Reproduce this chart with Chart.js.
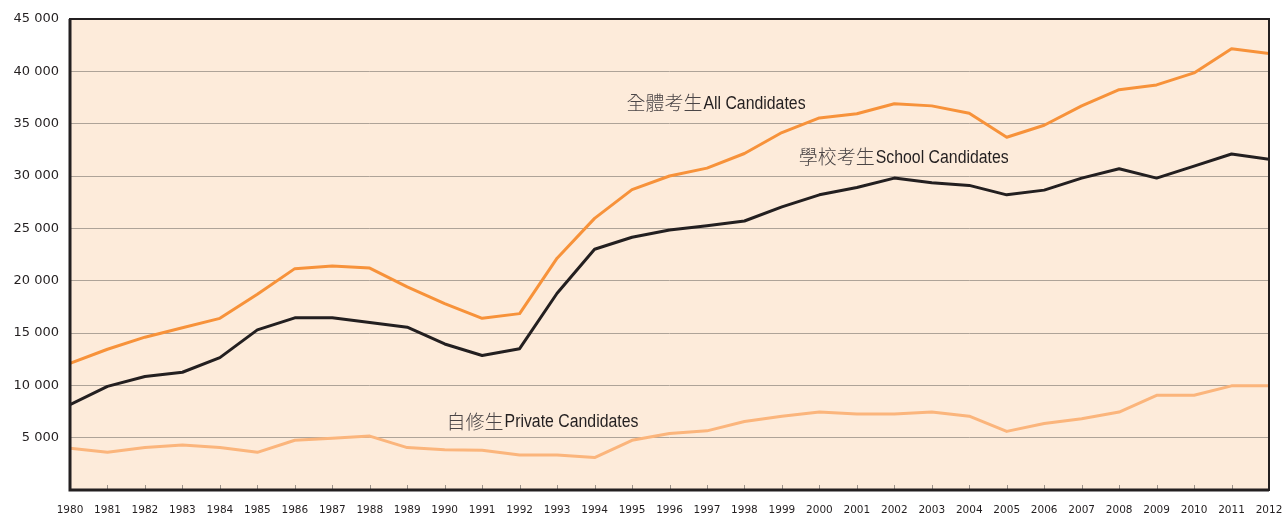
<!DOCTYPE html>
<html>
<head>
<meta charset="utf-8">
<script src="https://cdn.jsdelivr.net/npm/chart.js@4.4.1/dist/chart.umd.min.js"></script>
<style>
  html, body { margin: 0; padding: 0; background: #ffffff; }
  #wrap { width: 1283px; height: 514px; position: relative; }
</style>
</head>
<body>
<div id="wrap"><canvas id="candChart" width="1283" height="514"></canvas></div>
<script>
const years = [1980,1981,1982,1983,1984,1985,1986,1987,1988,1989,1990,1991,1992,1993,1994,1995,1996,
               1997,1998,1999,2000,2001,2002,2003,2004,2005,2006,2007,2008,2009,2010,2011,2012];
const allCandidates = [12100,13450,14600,15500,16400,18700,21150,21400,21200,19400,17800,16400,16850,22150,25950,28700,
                       30000,30750,32150,34150,35550,35950,36900,36700,36000,33700,34850,36700,38250,38700,39850,42150,41700];
const schoolCandidates = [8150,9900,10850,11250,12650,15300,16450,16450,16000,15550,13950,12850,13500,18800,23000,24150,
                          24850,25250,25700,27050,28200,28900,29800,29350,29100,28200,28650,29800,30700,29800,30950,32100,31600];
const privateCandidates = [4000,3600,4050,4300,4050,3600,4750,4950,5150,4050,3850,3800,3350,3350,3100,4750,
                           5400,5650,6550,7050,7450,7250,7250,7450,7050,5600,6350,6800,7450,9050,9050,9950,9950];
const yTicks = [0,5000,10000,15000,20000,25000,30000,35000,40000,45000];

// labels placed next to the lines, in data units
const seriesLabels = [
    { zh: '全體考生', en: 'All Candidates', x: 1994.85, y: 36950 },
    { zh: '學校考生', en: 'School Candidates', x: 1999.45, y: 31800 },
    { zh: '自修生', en: 'Private Candidates', x: 1990.05, y: 6550 }
];

function fmt(v) {
    if (v === 0) return '';
    let s = String(v);
    return s.slice(0, s.length - 3) + ' ' + s.slice(-3);
}

const frame = {
    id: 'frame',
    beforeDraw(chart) {
        const a = chart.chartArea, c = chart.ctx;
        c.save();
        c.fillStyle = '#fdebda';
        c.fillRect(a.left, a.top, a.right - a.left, a.bottom - a.top);
        c.restore();
    },
    afterDraw(chart) {
        const a = chart.chartArea, c = chart.ctx, xs = chart.scales.x;
        c.save();
        // small inward ticks on the bottom axis
        c.strokeStyle = '#9c928a';
        c.lineWidth = 1;
        xs.ticks.forEach((t, i) => {
            const px = Math.round(xs.getPixelForTick(i)) + 0.5;
            c.beginPath();
            c.moveTo(px, a.bottom);
            c.lineTo(px, a.bottom - 5);
            c.stroke();
        });
        c.strokeStyle = '#231f20';
        c.lineWidth = 2;
        c.strokeRect(a.left, a.top, a.right - a.left, a.bottom - a.top);
        c.lineWidth = 3;
        c.beginPath();
        c.moveTo(a.left, a.top);
        c.lineTo(a.left, a.bottom);
        c.lineTo(a.right, a.bottom);
        c.stroke();

        // series labels
        c.textBaseline = 'middle';
        seriesLabels.forEach(l => {
            const px = xs.getPixelForValue(l.x);
            const py = chart.scales.y.getPixelForValue(l.y);
            c.font = '300 19px "Noto Sans CJK TC"';
            c.fillStyle = '#4a4546';
            c.fillText(l.zh, px, py);
            const w = c.measureText(l.zh).width;
            c.save();
            c.translate(px + w + 1, py + 1);
            c.scale(0.88, 1);
            c.font = '18px "Liberation Sans", sans-serif';
            c.fillStyle = '#231f20';
            c.fillText(l.en, 0, 0);
            c.restore();
        });
        c.restore();
    }
};

new Chart(document.getElementById('candChart'), {
    type: 'line',
    data: {
        datasets: [
            { label: 'All Candidates', data: years.map((y, i) => ({ x: y, y: allCandidates[i] })),
              borderColor: '#f7923a', borderWidth: 3 },
            { label: 'School Candidates', data: years.map((y, i) => ({ x: y, y: schoolCandidates[i] })),
              borderColor: '#231f20', borderWidth: 3 },
            { label: 'Private Candidates', data: years.map((y, i) => ({ x: y, y: privateCandidates[i] })),
              borderColor: '#fbb57c', borderWidth: 3 }
        ]
    },
    options: {
        responsive: false,
        animation: false,
        devicePixelRatio: 1,
        layout: { padding: { top: 19, right: 14, bottom: 0, left: 0 } },
        elements: { point: { radius: 0 }, line: { tension: 0, borderJoinStyle: 'round' } },
        plugins: { legend: { display: false }, tooltip: { enabled: false } },
        scales: {
            x: {
                type: 'linear', min: 1980, max: 2012,
                afterBuildTicks: s => { s.ticks = years.map(v => ({ value: v })); },
                afterFit: s => { s.height = 24; s.paddingRight = 0; s.paddingLeft = 0; },
                grid: { display: false },
                border: { display: false },
                ticks: {
                    autoSkip: false, maxRotation: 0, padding: 6,
                    color: '#231f20',
                    font: { family: 'DejaVu Sans', size: 10.5 },
                    callback: v => String(v)
                }
            },
            y: {
                min: 0, max: 45000,
                afterBuildTicks: s => { s.ticks = yTicks.map(v => ({ value: v })); },
                afterFit: s => { s.width = 70; },
                grid: { color: '#aea398', lineWidth: 1, drawTicks: false },
                border: { display: false },
                ticks: {
                    autoSkip: false, padding: 11, color: '#231f20',
                    font: { family: 'DejaVu Sans', size: 13 },
                    callback: v => fmt(v)
                }
            }
        }
    },
    plugins: [frame]
});
</script>
</body>
</html>
